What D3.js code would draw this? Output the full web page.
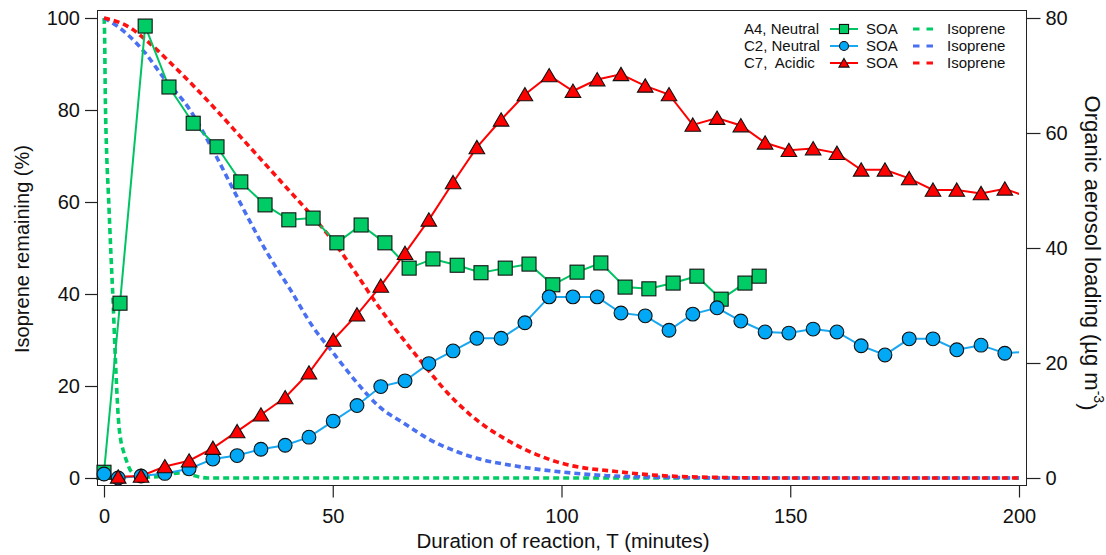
<!DOCTYPE html>
<html>
<head>
<meta charset="utf-8">
<script src="https://cdn.jsdelivr.net/npm/d3@7"></script>
<style>
  html, body { margin: 0; padding: 0; background: #fff; }
  svg { display: block; font-family: "Liberation Sans", Arial, sans-serif; }
</style>
</head>
<body>
<svg id="chart" width="1106" height="555"></svg>
<script>
// ---------------- DATA ----------------
const xTicks = [0, 50, 100, 150, 200];
const leftTicks = [0, 20, 40, 60, 80, 100];
const rightTicks = [0, 20, 40, 60, 80];

// SOA (organic aerosol loading, µg m-3, right axis)
const a4Time = [0, 3.5, 9.0, 14.2, 19.5, 24.7, 29.9, 35.2, 40.4, 45.7, 50.9, 56.2, 61.4, 66.7, 71.9, 77.2, 82.4, 87.7, 92.9, 98.1, 103.4, 108.6, 113.9, 119.1, 124.4, 129.6, 134.9, 140.1, 143.2];
const a4SOA  = [1.0, 30.4, 78.6, 68.0, 61.7, 57.6, 51.5, 47.5, 44.9, 45.2, 40.9, 44.0, 40.9, 36.5, 38.1, 37.0, 35.7, 36.5, 37.2, 33.6, 35.8, 37.4, 33.2, 32.9, 33.9, 35.1, 31.1, 33.9, 35.1];

const c2Time = [0, 3.1, 8.1, 13.3, 18.6, 23.8, 29.1, 34.3, 39.6, 44.8, 50.1, 55.3, 60.5, 65.8, 71.0, 76.3, 81.5, 86.8, 92.0, 97.3, 102.5, 107.8, 113.0, 118.3, 123.5, 128.7, 134.0, 139.2, 144.5, 149.7, 155.0, 160.2, 165.5, 170.7, 176.0, 181.2, 186.4, 191.7, 196.9, 202.1];
const c2SOA  = [0.7, 0.0, 0.35, 0.8, 1.6, 3.3, 3.9, 5.0, 5.7, 7.1, 9.9, 12.6, 15.9, 16.9, 19.9, 22.1, 24.3, 24.3, 27.0, 31.5, 31.5, 31.5, 28.7, 28.2, 25.7, 28.5, 29.6, 27.3, 25.4, 25.2, 25.9, 25.4, 23.0, 21.4, 24.2, 24.2, 22.3, 23.1, 21.7, 22.0];

const c7Time = [3.1, 8.1, 13.3, 18.6, 23.8, 29.1, 34.3, 39.6, 44.8, 50.1, 55.3, 60.5, 65.8, 71.0, 76.3, 81.5, 86.8, 92.0, 97.3, 102.5, 107.8, 113.0, 118.3, 123.5, 128.7, 134.0, 139.2, 144.5, 149.7, 155.0, 160.2, 165.5, 170.7, 176.0, 181.2, 186.4, 191.7, 196.9, 202.1];
const c7SOA  = [0.2, 0.35, 2.0, 3.0, 5.2, 8.1, 11.0, 14.0, 18.3, 24.0, 28.4, 33.4, 39.1, 44.9, 51.4, 57.5, 62.3, 66.7, 70.0, 67.3, 69.3, 70.2, 68.2, 66.7, 61.4, 62.6, 61.3, 58.3, 57.0, 57.3, 56.5, 53.6, 53.6, 52.1, 50.1, 50.1, 49.5, 50.3, 48.8];

// Isoprene remaining (%, left axis)
const a4IsoTime = [0, 0.1, 0.3, 0.6, 0.95, 1.5, 2.0, 2.4, 2.8, 3.1, 3.7, 4.2, 5.0, 5.7, 7.0, 9.0, 11.7, 14.0, 16.4, 18.0, 19.4, 21.0, 22.7, 200];
const a4Iso     = [100, 98, 82, 70, 62, 49, 38, 28, 19, 13.5, 8, 6, 3.5, 1.8, 0.7, 0.2, 0.3, 0.7, 1.1, 1.0, 0.6, 0.2, 0, 0];

const c2IsoTime = [0, 2.8, 9.0, 12.9, 18.8, 23.8, 29.1, 35.7, 40.7, 45.7, 50.1, 55.3, 60.3, 65.4, 71.3, 77.2, 81.5, 90, 100, 110, 120, 140, 200];
const c2Iso     = [100, 98.3, 92.4, 87.2, 80.0, 71.3, 61.1, 48.9, 41.0, 32.8, 27.2, 20.7, 15.4, 12.0, 8.3, 5.7, 4.3, 2.6, 1.3, 0.5, 0.2, 0, 0];

const c7IsoTime = [0, 5, 10, 15, 20, 25, 30, 35, 40, 45, 50, 55, 60, 65, 70, 75, 80, 88, 99, 113, 130, 150, 200];
const c7Iso     = [100, 98.3, 94.5, 89.8, 84.8, 79.5, 74.0, 68.5, 63.0, 57.5, 51.6, 44.6, 37.3, 30.7, 24.5, 18.6, 13.8, 8.3, 3.5, 1.3, 0.2, 0, 0];

const legendLabels = ["A4, Neutral", "C2, Neutral", "C7,  Acidic"];
const soaLabel = "SOA";
const isoLabel = "Isoprene";

// ---------------- LAYOUT / STYLE ----------------
const frame = { left: 97, right: 1026, top: 10, bottom: 485 };
const x  = d3.scaleLinear().domain([0, 200]).range([104, 1019]);
const yL = d3.scaleLinear().domain([0, 100]).range([478, 18]);
const yR = d3.scaleLinear().domain([0, 80]).range([478, 18]);

const series = [
  { t: a4Time, v: a4SOA, it: a4IsoTime, iv: a4Iso, line: "#00c463", fill: "#00cc66", iso: "#00cc66", marker: "square" },
  { t: c2Time, v: c2SOA, it: c2IsoTime, iv: c2Iso, line: "#19a8f0", fill: "#00a8f5", iso: "#4a70f2", marker: "circle" },
  { t: c7Time, v: c7SOA, it: c7IsoTime, iv: c7Iso, line: "#ff0000", fill: "#ff0000", iso: "#ff1010", marker: "triangle" }
];

const svg = d3.select("#chart");

svg.append("defs").append("clipPath").attr("id", "plotclip")
  .append("rect")
  .attr("x", frame.left).attr("y", frame.top)
  .attr("width", x(200) - frame.left).attr("height", frame.bottom - frame.top);

// frame
svg.append("rect")
  .attr("x", frame.left + 0.5).attr("y", frame.top + 0.5)
  .attr("width", frame.right - frame.left).attr("height", frame.bottom - frame.top)
  .attr("fill", "none").attr("stroke", "#222").attr("stroke-width", 1);

// axes
function styleAxis(g) {
  g.select(".domain").remove();
  g.selectAll(".tick line").attr("stroke", "#222").attr("stroke-width", 1.2);
  g.selectAll(".tick text").attr("fill", "#111").style("font-size", "20px")
    .style("font-family", '"Liberation Sans", Arial, sans-serif');
}
svg.append("g").attr("transform", `translate(${frame.left},0)`)
  .call(d3.axisLeft(yL).tickValues(leftTicks).tickSize(12).tickPadding(5).tickFormat(d3.format("d")))
  .call(styleAxis);
svg.append("g").attr("transform", `translate(${frame.right + 0.5},0)`)
  .call(d3.axisRight(yR).tickValues(rightTicks).tickSize(14).tickPadding(5).tickFormat(d3.format("d")))
  .call(styleAxis);
svg.append("g").attr("transform", `translate(0,${frame.bottom + 0.5})`)
  .call(d3.axisBottom(x).tickValues(xTicks).tickSize(12).tickPadding(11).tickFormat(d3.format("d")))
  .call(styleAxis);

// axis titles
svg.append("text")
  .attr("transform", "translate(22,249) rotate(-90)")
  .attr("text-anchor", "middle").attr("dominant-baseline", "central")
  .style("font-size", "20px").attr("fill", "#111")
  .text("Isoprene remaining (%)");
svg.append("text")
  .attr("x", 563).attr("y", 548)
  .attr("text-anchor", "middle")
  .style("font-size", "20.5px").attr("fill", "#111")
  .text("Duration of reaction, T (minutes)");
const rt = svg.append("text")
  .attr("transform", "translate(1093,253) rotate(90)")
  .attr("text-anchor", "middle").attr("dominant-baseline", "central")
  .style("font-size", "22px").attr("fill", "#111");
rt.append("tspan").text("Organic aerosol loading (µg m");
rt.append("tspan").attr("dy", "-0.45em").style("font-size", "14px").text("-3");
rt.append("tspan").attr("dy", "0.45em").text(")");

// plot
const plot = svg.append("g");
const clipped = plot.append("g").attr("clip-path", "url(#plotclip)");

// isoprene dashed lines
series.forEach(s => {
  const pts = s.it.map((t, i) => [t, s.iv[i]]);
  clipped.append("path")
    .attr("d", d3.line().x(d => x(d[0])).y(d => yL(d[1])).curve(d3.curveMonotoneX)(pts))
    .attr("fill", "none").attr("stroke", s.iso).attr("stroke-width", 3.6)
    .attr("stroke-dasharray", "6,4");
});

function drawMarker(g, type, cx, cy, fill, k) {
  if (type === "square") {
    const s = 14 * k;
    g.append("rect").attr("x", cx - s / 2).attr("y", cy - s / 2).attr("width", s).attr("height", s)
      .attr("fill", fill).attr("stroke", "#111").attr("stroke-width", 1.1);
  } else if (type === "circle") {
    g.append("circle").attr("cx", cx).attr("cy", cy).attr("r", 6.9 * k)
      .attr("fill", fill).attr("stroke", "#111").attr("stroke-width", 1.1);
  } else {
    const w = 7.8 * k, h1 = 7.0 * k, h2 = 6.3 * k;
    g.append("path").attr("d", `M0,${-h1}L${w},${h2}L${-w},${h2}Z`)
      .attr("transform", `translate(${cx},${cy})`)
      .attr("fill", fill).attr("stroke", "#111").attr("stroke-width", 1.1);
  }
}

// SOA lines + markers
series.forEach(s => {
  const pts = s.t.map((t, i) => [t, s.v[i]]);
  clipped.append("path")
    .attr("d", d3.line().x(d => x(d[0])).y(d => yR(d[1]))(pts))
    .attr("fill", "none").attr("stroke", s.line).attr("stroke-width", 2);
  const mg = plot.append("g");
  pts.filter(d => d[0] <= 200).forEach(d => drawMarker(mg, s.marker, x(d[0]), yR(d[1]), s.fill, 1));
});

// legend
const lg = svg.append("g").style("font-size", "15px").attr("fill", "#111");
const rowY = [29, 46, 63];
series.forEach((s, i) => {
  const cy = rowY[i];
  lg.append("text").attr("x", 744).attr("y", cy + 5.3).attr("xml:space", "preserve")
    .style("white-space", "pre").text(legendLabels[i]);
  lg.append("line").attr("x1", 830).attr("x2", 858).attr("y1", cy).attr("y2", cy)
    .attr("stroke", s.line).attr("stroke-width", 2);
  drawMarker(lg, s.marker, 844, cy, s.fill, 0.65);
  lg.append("text").attr("x", 866).attr("y", cy + 5.3).text(soaLabel);
  lg.append("line").attr("x1", 913).attr("x2", 934).attr("y1", cy).attr("y2", cy)
    .attr("stroke", s.iso).attr("stroke-width", 3.2).attr("stroke-dasharray", "6.5,7");
  lg.append("text").attr("x", 947).attr("y", cy + 5.3).text(isoLabel);
});
</script>
</body>
</html>
